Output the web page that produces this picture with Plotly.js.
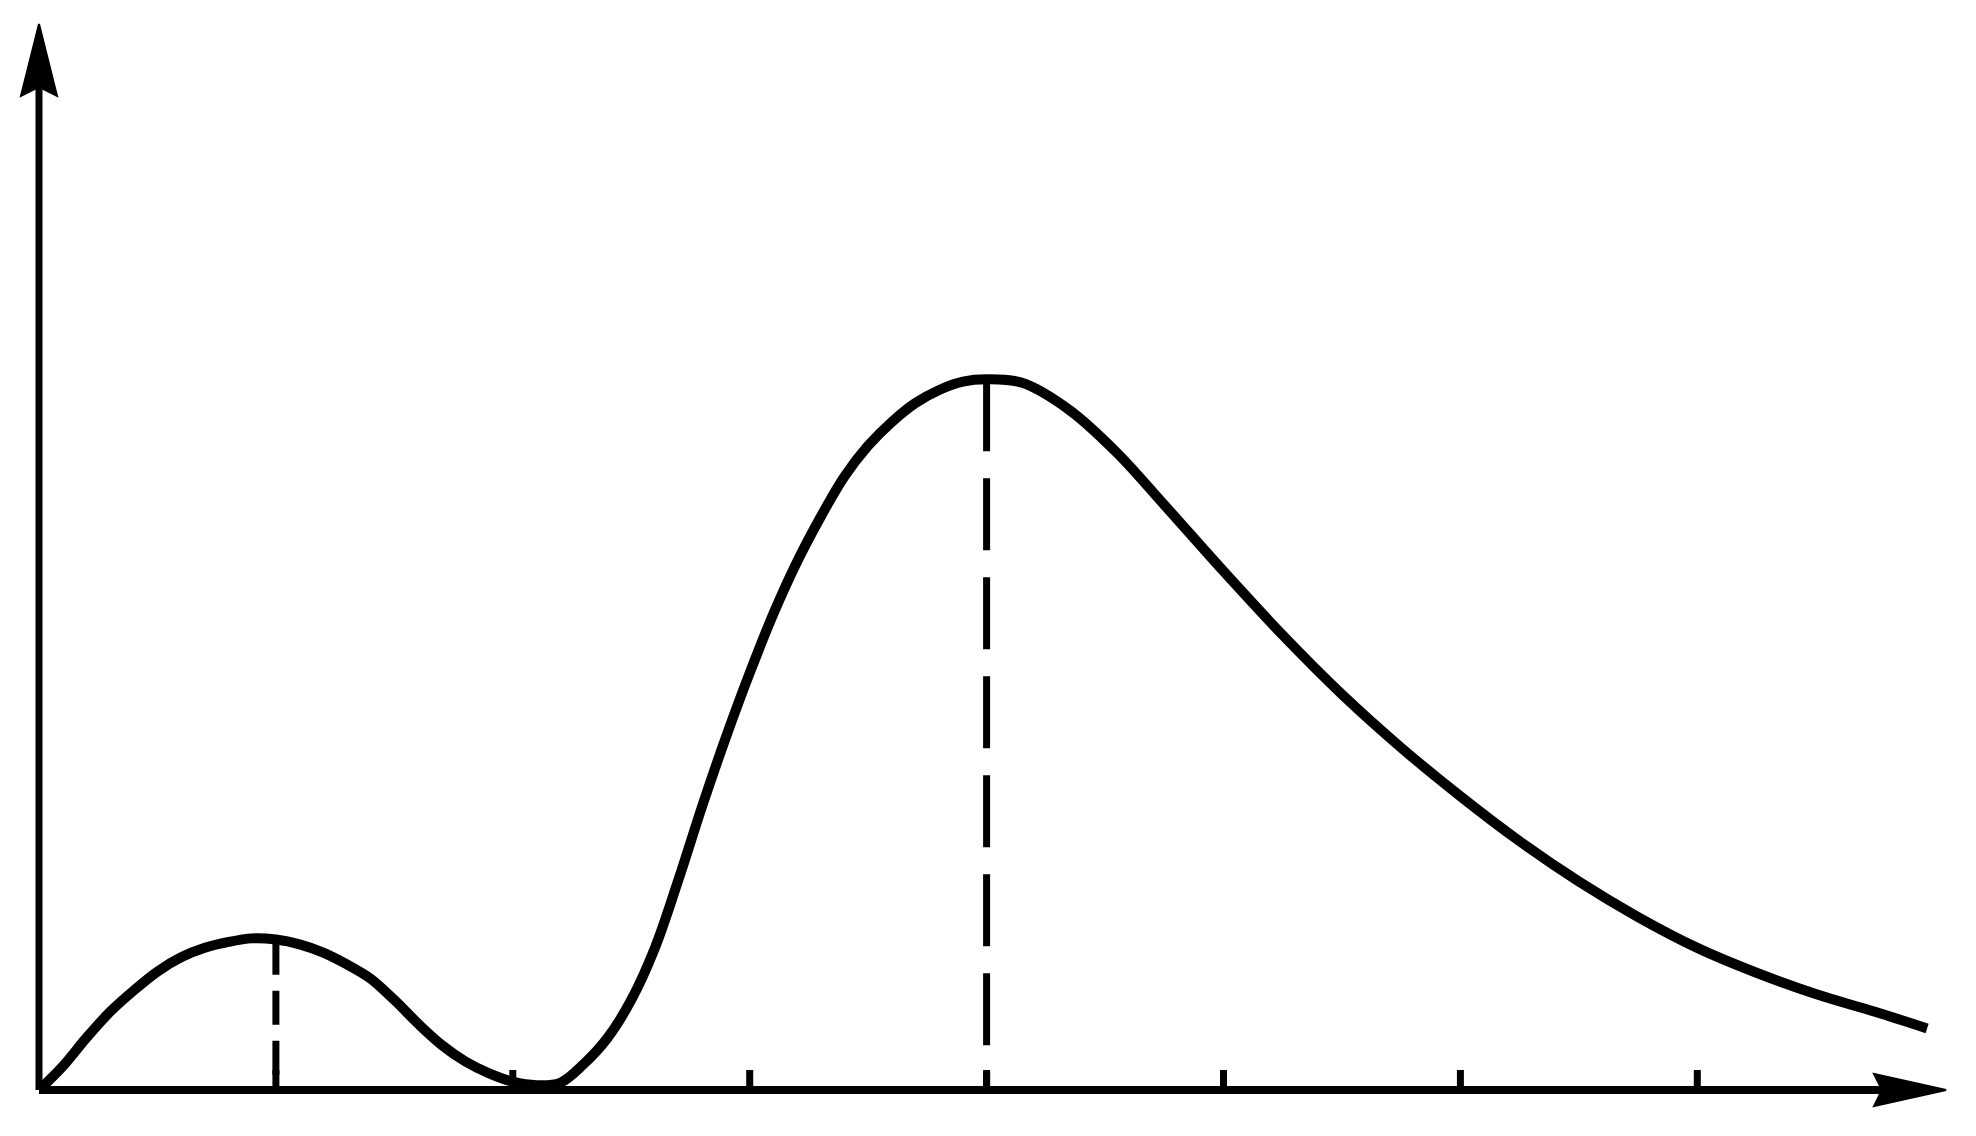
<!DOCTYPE html>
<html>
<head>
<meta charset="utf-8">
<script src="https://cdn.plot.ly/plotly-3.0.1.min.js"></script>
<style>
html,body{margin:0;padding:0;background:#fff;}
#chart{width:1976px;height:1136px;}
</style>
</head>
<body>
<div id="chart"></div>
<script>
// ---- data (x and y in tick units) ----
const curveX = [0, 0.1, 0.2, 0.3, 0.4, 0.5, 0.6, 0.7, 0.8, 0.9, 1.0, 1.1, 1.2, 1.3, 1.4, 1.5, 1.6, 1.7, 1.8, 1.9, 2.0, 2.1, 2.2,
  2.3, 2.4, 2.5, 2.6, 2.7, 2.8, 2.9, 3.0, 3.1, 3.2, 3.3, 3.4, 3.5, 3.6, 3.7, 3.8, 3.9, 4.0,
  4.15, 4.35, 4.55, 4.75, 5.0, 5.25, 5.5, 5.75, 6.0, 6.25, 6.5, 6.75, 7.0, 7.25, 7.5, 7.75, 7.97];
const curveY = [0, 0.10, 0.22, 0.33, 0.42, 0.50, 0.56, 0.60, 0.625, 0.64, 0.635, 0.615, 0.58, 0.53, 0.47, 0.38, 0.28, 0.19, 0.12, 0.07, 0.035, 0.02, 0.03,
  0.11, 0.22, 0.38, 0.60, 0.89, 1.20, 1.49, 1.76, 2.01, 2.23, 2.42, 2.59, 2.72, 2.82, 2.90, 2.955, 2.99, 3.0,
  2.985, 2.87, 2.69, 2.47, 2.19, 1.92, 1.67, 1.445, 1.24, 1.05, 0.88, 0.73, 0.60, 0.495, 0.405, 0.33, 0.26];
const peakX = [1, 4];
const peakY = [0.63, 3.0];
const peakDash = ['34px,16px', '72px,27px'];
const tickX = [1, 2, 3, 4, 5, 6, 7];
const xAxisEnd = 8.05;
const yAxisEnd = 4.5;

// ---- layout geometry ----
const W = 1976, H = 1136;
const UNIT = 236.9;          // pixels per unit
const ORIGIN_PX = 39, ORIGIN_PY = 1090;
const xRange = [-ORIGIN_PX / UNIT, (W - ORIGIN_PX) / UNIT];
const yRange = [-(H - ORIGIN_PY) / UNIT, ORIGIN_PY / UNIT];

const INK = '#000000';
const traces = [];

traces.push({
  type: 'scatter', mode: 'lines', x: curveX, y: curveY,
  line: {color: INK, width: 10, shape: 'spline', smoothing: 1},
  cliponaxis: false, hoverinfo: 'skip', showlegend: false
});

peakX.forEach((px, i) => {
  traces.push({
    type: 'scatter', mode: 'lines', x: [px, px], y: [peakY[i], 0],
    line: {color: INK, width: 7, dash: peakDash[i]},
    hoverinfo: 'skip', showlegend: false
  });
});

const shapes = [];
// axes
shapes.push({type: 'line', xref: 'x', yref: 'y', x0: 0, y0: 0, x1: xAxisEnd - 40 / UNIT, y1: 0,
  line: {color: INK, width: 8}});
shapes.push({type: 'line', xref: 'x', yref: 'y', x0: 0, y0: 0, x1: 0, y1: yAxisEnd - 40 / UNIT,
  line: {color: INK, width: 7}});
// arrow heads
shapes.push({type: 'path', xref: 'x', yref: 'y', xsizemode: 'pixel', ysizemode: 'pixel',
  xanchor: xAxisEnd, yanchor: 0, path: 'M0,0 L-72,16 L-64,0 L-72,-16 Z',
  fillcolor: INK, line: {color: INK, width: 2}});
shapes.push({type: 'path', xref: 'x', yref: 'y', xsizemode: 'pixel', ysizemode: 'pixel',
  xanchor: 0, yanchor: yAxisEnd, path: 'M0,0 L-18,-72 L0,-63 L18,-72 Z',
  fillcolor: INK, line: {color: INK, width: 2}});
// tick marks
tickX.forEach(t => {
  shapes.push({type: 'line', xref: 'x', yref: 'y', ysizemode: 'pixel', yanchor: 0,
    x0: t, x1: t, y0: 0, y1: 20, line: {color: INK, width: 7}});
});

const hidden = {showgrid: false, zeroline: false, showline: false,
  showticklabels: false, ticks: '', fixedrange: true};

const layout = {
  width: W, height: H,
  margin: {l: 0, r: 0, t: 0, b: 0, pad: 0},
  paper_bgcolor: '#ffffff', plot_bgcolor: '#ffffff',
  xaxis: Object.assign({}, hidden, {range: xRange}),
  yaxis: Object.assign({}, hidden, {range: yRange}),
  shapes: shapes,
  showlegend: false
};

Plotly.newPlot('chart', traces, layout, {staticPlot: true, displayModeBar: false});
</script>
</body>
</html>
